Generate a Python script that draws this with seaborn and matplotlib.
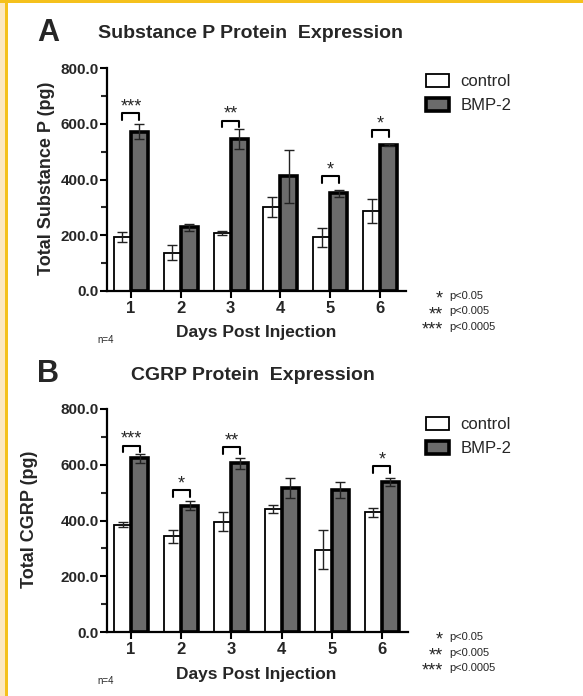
import numpy as np
import pandas as pd
import matplotlib
matplotlib.use("Agg")
import matplotlib.pyplot as plt
from matplotlib.patches import Rectangle
import seaborn as sns

# values (pg), mean and SEM, n=4
days = ["1", "2", "3", "4", "5", "6"]
groups = ["control", "BMP-2"]

sp_control = [194, 138, 207, 303, 192, 287]
sp_control_err = [19, 28, 7, 36, 34, 43]
sp_bmp = [572, 228, 545, 411, 350, 523]
sp_bmp_err = [27, 12, 35, 95, 12, 4]
sp_stars = {0: "***", 2: "**", 4: "*", 5: "*"}
sp_bracket = {0: 638, 2: 611, 4: 411, 5: 578}

cgrp_control = [384, 343, 396, 441, 295, 429]
cgrp_control_err = [9, 22, 34, 15, 70, 17]
cgrp_bmp = [623, 453, 605, 516, 509, 538]
cgrp_bmp_err = [15, 16, 21, 36, 30, 16]
cgrp_stars = {0: "***", 1: "*", 2: "**", 5: "*"}
cgrp_bracket = {0: 669, 1: 510, 2: 663, 5: 596}

sig_marks = ["*", "**", "***"]
sig_levels = ["p<0.05", "p<0.005", "p<0.0005"]

sns.set_style("ticks")
plt.rcParams["font.family"] = ["Liberation Sans", "DejaVu Sans"]

W, H = 583, 696
fig = plt.figure(figsize=(W / 100, H / 100), dpi=100)


def fx(px):
    return px / W


def fy(py):
    return 1 - py / H


# page border
fig.patches.append(Rectangle((0, 0), fx(5), 1, transform=fig.transFigure,
                             facecolor="#fce8bf", edgecolor="none", zorder=0))
fig.patches.append(Rectangle((fx(5), 0), fx(3), 1, transform=fig.transFigure,
                             facecolor="#f5c11c", edgecolor="none", zorder=0))
fig.patches.append(Rectangle((0, fy(3)), 1, fy(0) - fy(3), transform=fig.transFigure,
                             facecolor="#f5c11c", edgecolor="none", zorder=0))


def panel(top, right, ctrl, ctrl_err, bmp, bmp_err, stars, bracket,
          letter, title, title_x, ylabel, ylabel_x, legend_y, sig_y):
    ax = fig.add_axes([fx(107), fy(top + 223), fx(right) - fx(107), fy(top) - fy(top + 223)])
    df = pd.DataFrame({
        "day": days * 2,
        "group": [groups[0]] * 6 + [groups[1]] * 6,
        "value": ctrl + bmp,
    })
    sns.barplot(data=df, x="day", y="value", hue="group", hue_order=groups,
                palette=["white", "#6b6b6b"], width=0.68, errorbar=None,
                ax=ax, zorder=2)
    errs = {groups[0]: ctrl_err, groups[1]: bmp_err}
    centers = {}
    for cont, g in zip(ax.containers, groups):
        xs = []
        lw = 1.3 if g == "control" else 2.6
        for bar, e in zip(cont, errs[g]):
            bar.set_edgecolor("black")
            bar.set_linewidth(lw)
            x = bar.get_x() + bar.get_width() / 2
            xs.append(x)
            ax.errorbar(x, bar.get_height(), yerr=e, fmt="none", ecolor="#222222",
                        elinewidth=1.0, capsize=3.5, capthick=1.0, zorder=3)
        centers[g] = xs
    for i, s in stars.items():
        x0 = centers["control"][i]
        x1 = centers["BMP-2"][i]
        y = bracket[i]
        ax.plot([x0, x0, x1, x1], [y - 24, y, y, y - 24], color="black", lw=1.5,
                clip_on=False, zorder=3)
        ax.text((x0 + x1) / 2, y - 8, s, ha="center", va="bottom",
                fontsize=13, clip_on=False)

    ax.set_ylim(0, 800)
    ax.set_xlim(-0.48, 5.52)
    ax.set_yticks([0, 200, 400, 600, 800])
    ax.set_yticklabels(["0.0", "200.0", "400.0", "600.0", "800.0"])
    ax.set_yticks([100, 300, 500, 700], minor=True)
    for lab in ax.get_xticklabels() + ax.get_yticklabels():
        lab.set_fontweight("bold")
    ax.tick_params(axis="y", labelsize=11, length=5, width=1.5, pad=1, color="black")
    ax.tick_params(axis="y", which="minor", length=4, width=1.5)
    ax.tick_params(axis="x", labelsize=12, length=5, width=1.5, pad=2, color="black")
    sns.despine(ax=ax)
    for sp in ["left", "bottom"]:
        ax.spines[sp].set_linewidth(1.6)
        ax.spines[sp].set_color("black")
    ax.set_xlabel("")
    ax.set_ylabel("")

    handles, labels = ax.get_legend_handles_labels()
    for h, g in zip(handles, groups):
        h.set_edgecolor("black")
        h.set_linewidth(1.3 if g == "control" else 2.6)
    ax.legend(handles, labels, loc="upper left", frameon=False,
              bbox_to_anchor=(fx(426), fy(legend_y)), bbox_transform=fig.transFigure,
              fontsize=12, borderpad=0, borderaxespad=0, handlelength=1.35,
              handleheight=0.85, handletextpad=0.7, labelspacing=0.5)

    fig.text(fx(37), fy(top - 35), letter, fontsize=22, fontweight="bold",
             ha="left", va="center")
    fig.text(fx(title_x), fy(top - 34), title, fontsize=14, fontweight="bold",
             ha="center", va="center")
    fig.text(fx(ylabel_x), fy(top + 110), ylabel, fontsize=13, fontweight="bold",
             rotation=90, ha="center", va="center")
    fig.text(fx(256), fy(top + 265), "Days Post Injection", fontsize=12.5,
             fontweight="bold", ha="center", va="center")
    fig.text(fx(97), fy(top + 272), "n=4", fontsize=7, ha="left", va="center")
    for k, (m, p) in enumerate(zip(sig_marks, sig_levels)):
        yy = sig_y + k * 15.5
        fig.text(fx(443), fy(yy + 3), m, fontsize=13, ha="right", va="center")
        fig.text(fx(449), fy(yy), p, fontsize=8, ha="left", va="center")
    return ax


panel(68, 406, sp_control, sp_control_err, sp_bmp, sp_bmp_err, sp_stars, sp_bracket,
      "A", "Substance P Protein  Expression", 251, "Total Substance P (pg)", 47, 74, 296)
panel(409, 408, cgrp_control, cgrp_control_err, cgrp_bmp, cgrp_bmp_err, cgrp_stars,
      cgrp_bracket, "B", "CGRP Protein  Expression", 253, "Total CGRP (pg)", 30, 417, 637)

fig.savefig("out.png", dpi=100, facecolor="white")
